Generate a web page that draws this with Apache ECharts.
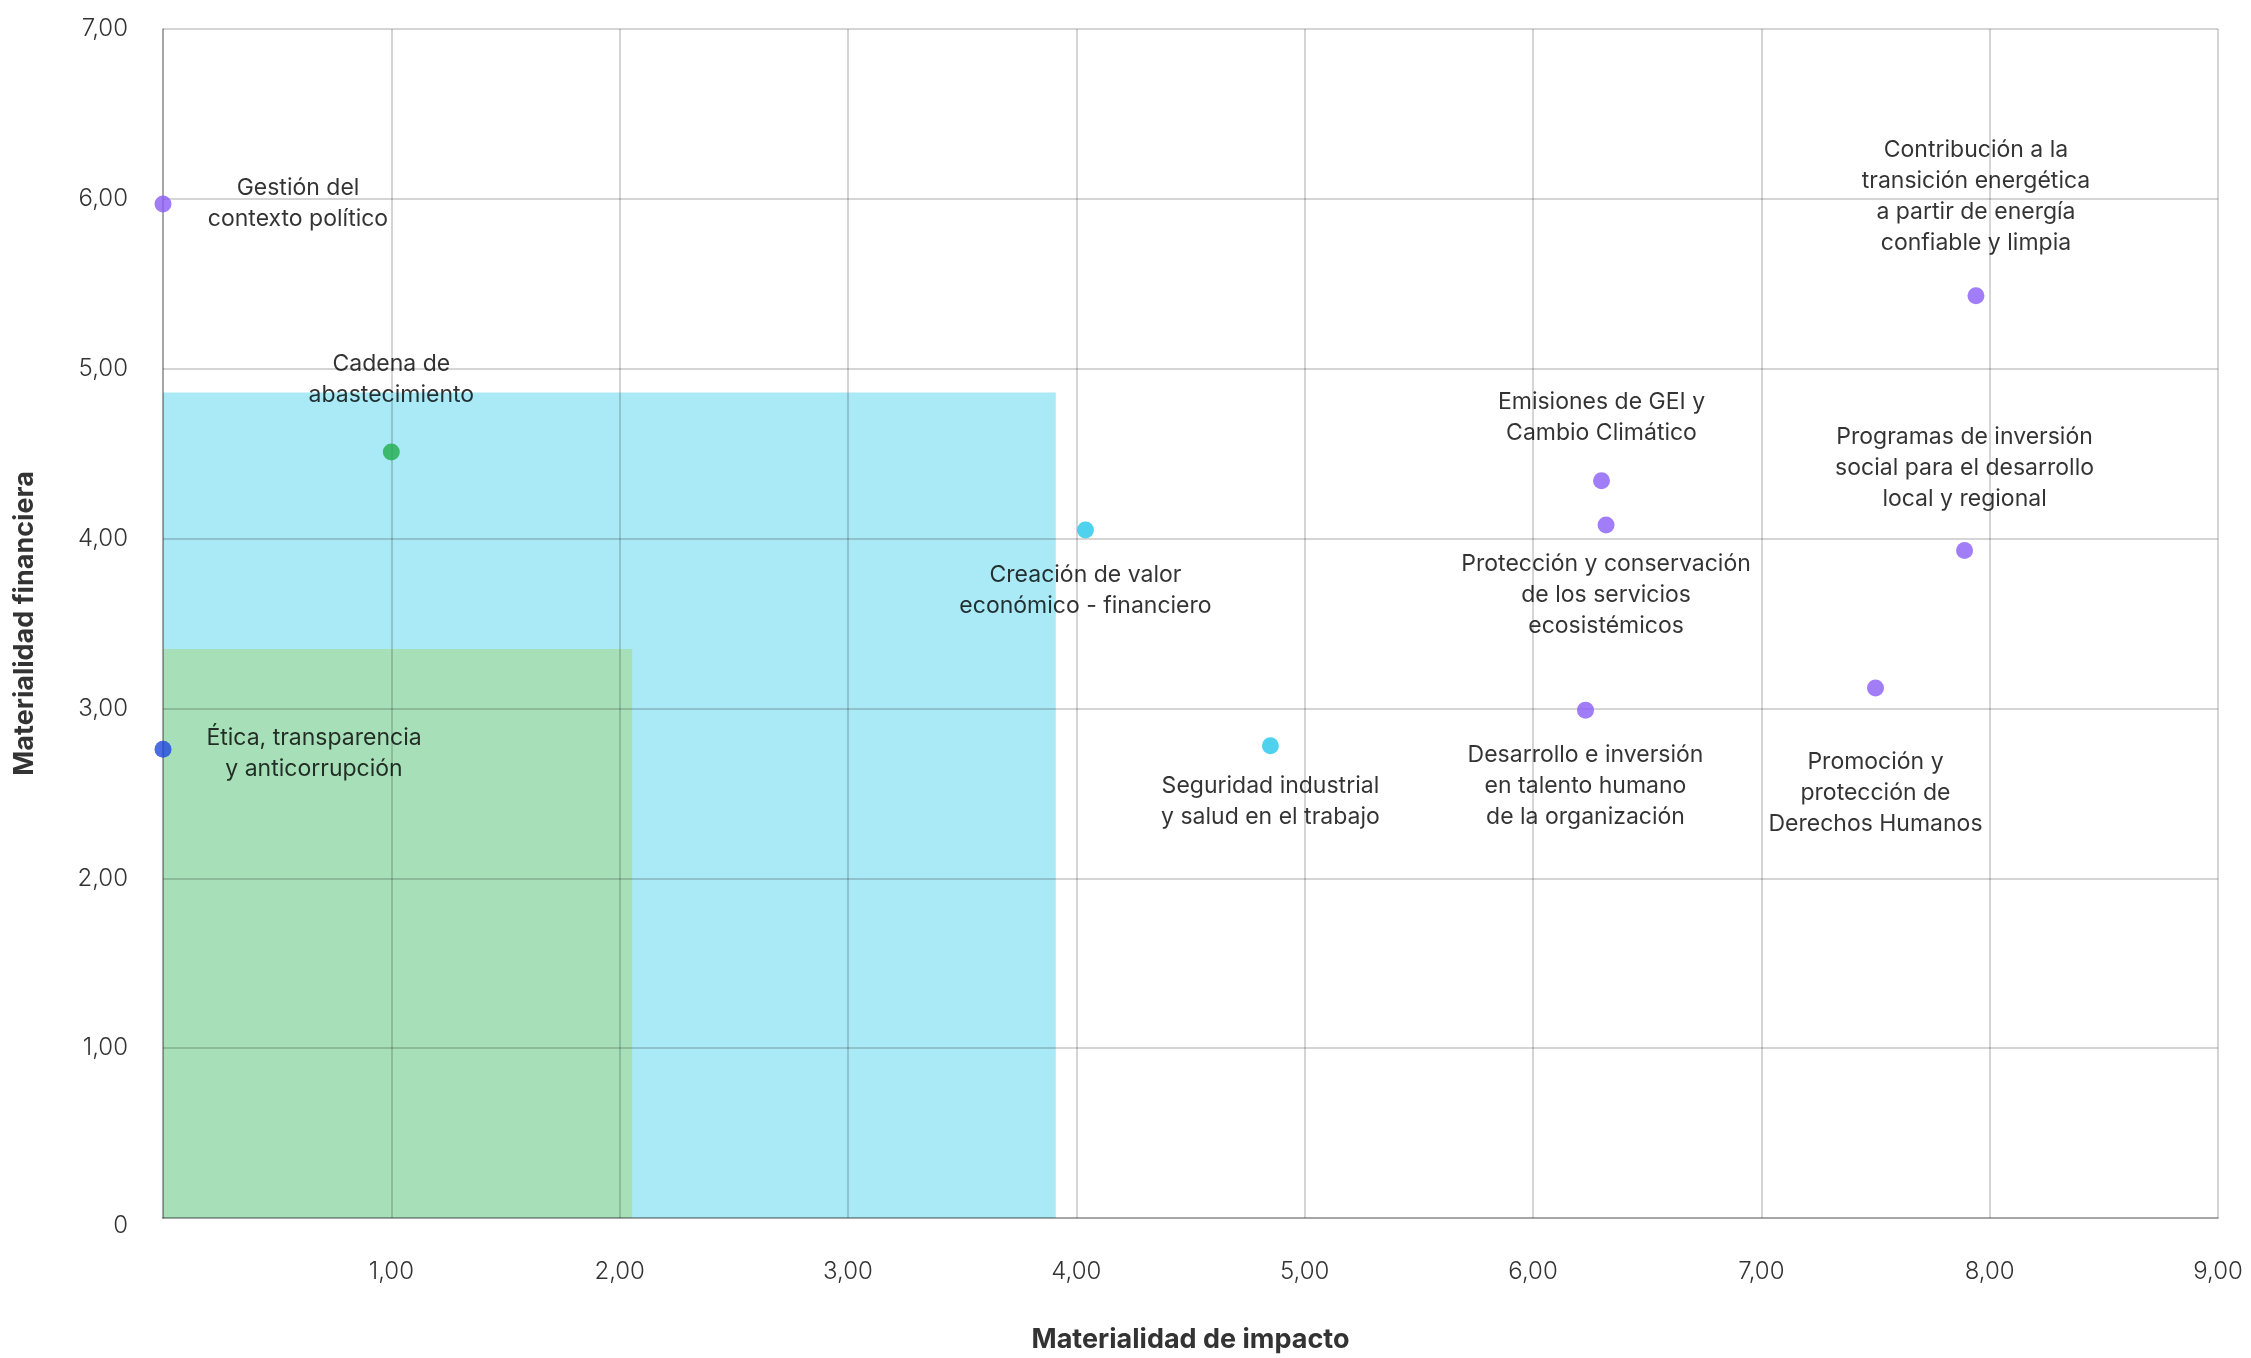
<!DOCTYPE html>
<html>
<head>
<meta charset="utf-8">
<script src="https://cdn.jsdelivr.net/npm/echarts@6/dist/echarts.min.js"></script>
<style>
html,body{margin:0;padding:0;background:#fff;}
#chart{width:2251px;height:1358px;}
</style>
</head>
<body>
<div id="chart"></div>
<script>
// ---- Data ----
const topics = [
  'Gestión del\ncontexto político',
  'Cadena de\nabastecimiento',
  'Ética, transparencia\ny anticorrupción',
  'Creación de valor\neconómico - financiero',
  'Seguridad industrial\ny salud en el trabajo',
  'Emisiones de GEI y\nCambio Climático',
  'Protección y conservación\nde los servicios\necosistémicos',
  'Desarrollo e inversión\nen talento humano\nde la organización',
  'Promoción y\nprotección de\nDerechos Humanos',
  'Programas de inversión\nsocial para el desarrollo\nlocal y regional',
  'Contribución a la\ntransición energética\na partir de energía\nconfiable y limpia'
];
const impactValues    = [0.00, 1.00, 0.00, 4.04, 4.85, 6.30, 6.32, 6.23, 7.50, 7.89, 7.94];
const financialValues = [5.97, 4.51, 2.76, 4.05, 2.78, 4.34, 4.08, 2.99, 3.12, 3.93, 5.43];
const topicGroups     = ['A', 'B', 'C', 'D', 'D', 'A', 'A', 'A', 'A', 'A', 'A'];

const zoneNames        = ['Zona 1', 'Zona 2'];
const zoneImpactMax    = [3.91, 2.055];
const zoneFinancialMax = [4.86, 3.35];

const xTickLabels = ['', '1,00', '2,00', '3,00', '4,00', '5,00', '6,00', '7,00', '8,00', '9,00'];
const yTickLabels = ['0', '1,00', '2,00', '3,00', '4,00', '5,00', '6,00', '7,00'];

// ---- Styles / layout ----
const groupColors = { A: '#8b5cf6', B: '#1fae4c', C: '#1f47e0', D: '#22c7e8' };
const zoneColors = ['#aaeaf6', '#a7e0b8'];
// label offsets [dx, dy] in px relative to point
const labelOffsets = [
  [135, 0], [0, -72], [151, 4], [0, 60], [0, 56], [0, -63],
  [0, 70], [0, 76], [0, 105], [0, -82], [0, -99]
];

const FONT = 'Inter, "Noto Sans", sans-serif';

const points = topics.map((t, i) => ({
  name: t,
  value: [impactValues[i], financialValues[i]],
  itemStyle: { color: groupColors[topicGroups[i]] },
  label: { offset: labelOffsets[i] }
}));

const zoneData = zoneNames.map((n, i) => ([
  { name: n, coord: [0, 0], itemStyle: { color: zoneColors[i], opacity: 1 } },
  { coord: [zoneImpactMax[i], zoneFinancialMax[i]] }
]));

const chart = echarts.init(document.getElementById('chart'));
chart.setOption({
  animation: false,
  backgroundColor: '#ffffff',
  grid: { left: 163, right: 33, top: 29, bottom: 129, containLabel: false },
  xAxis: {
    type: 'value', min: 0, max: 9, interval: 1, z: 3,
    name: 'Materialidad de impacto', nameLocation: 'middle', nameGap: 108,
    nameTextStyle: { fontFamily: FONT, fontSize: 27, fontWeight: 'bold', color: '#333' },
    axisLine: { show: true, lineStyle: { color: 'rgba(0,0,0,0.22)', width: 2 } },
    axisTick: { show: false },
    splitLine: { show: true, lineStyle: { color: 'rgba(0,0,0,0.22)', width: 1.5 } },
    axisLabel: {
      margin: 42, fontFamily: FONT, fontSize: 24, fontWeight: 300, color: '#333',
      formatter: v => xTickLabels[Math.round(v)]
    }
  },
  yAxis: {
    type: 'value', min: 0, max: 7, interval: 1, z: 3,
    name: 'Materialidad financiera', nameLocation: 'middle', nameGap: 125,
    nameTextStyle: { fontFamily: FONT, fontSize: 27, fontWeight: 'bold', color: '#333' },
    axisLine: { show: true, lineStyle: { color: 'rgba(0,0,0,0.22)', width: 2 } },
    axisTick: { show: false },
    splitLine: { show: true, lineStyle: { color: 'rgba(0,0,0,0.22)', width: 1.5 } },
    axisLabel: {
      margin: 35, fontFamily: FONT, fontSize: 24, fontWeight: 300, color: '#333',
      formatter: v => {
        const s = yTickLabels[Math.round(v)];
        return Math.round(v) === 0 ? '{z|' + s + '}' : s;
      },
      rich: { z: { fontFamily: FONT, fontSize: 24, fontWeight: 300, color: '#333', padding: [16, 0, 0, 0] } }
    }
  },
  series: [
    {
      type: 'scatter', z: 1, data: [], silent: true,
      markArea: { silent: true, label: { show: false }, data: zoneData }
    },
    {
      type: 'scatter', z: 5, symbolSize: 17, data: points,
      label: {
        show: true, position: 'inside', formatter: '{b}',
        align: 'center', verticalAlign: 'middle',
        fontFamily: FONT, fontSize: 23, lineHeight: 31, color: '#000'
      }
    }
  ]
});
</script>
</body>
</html>
